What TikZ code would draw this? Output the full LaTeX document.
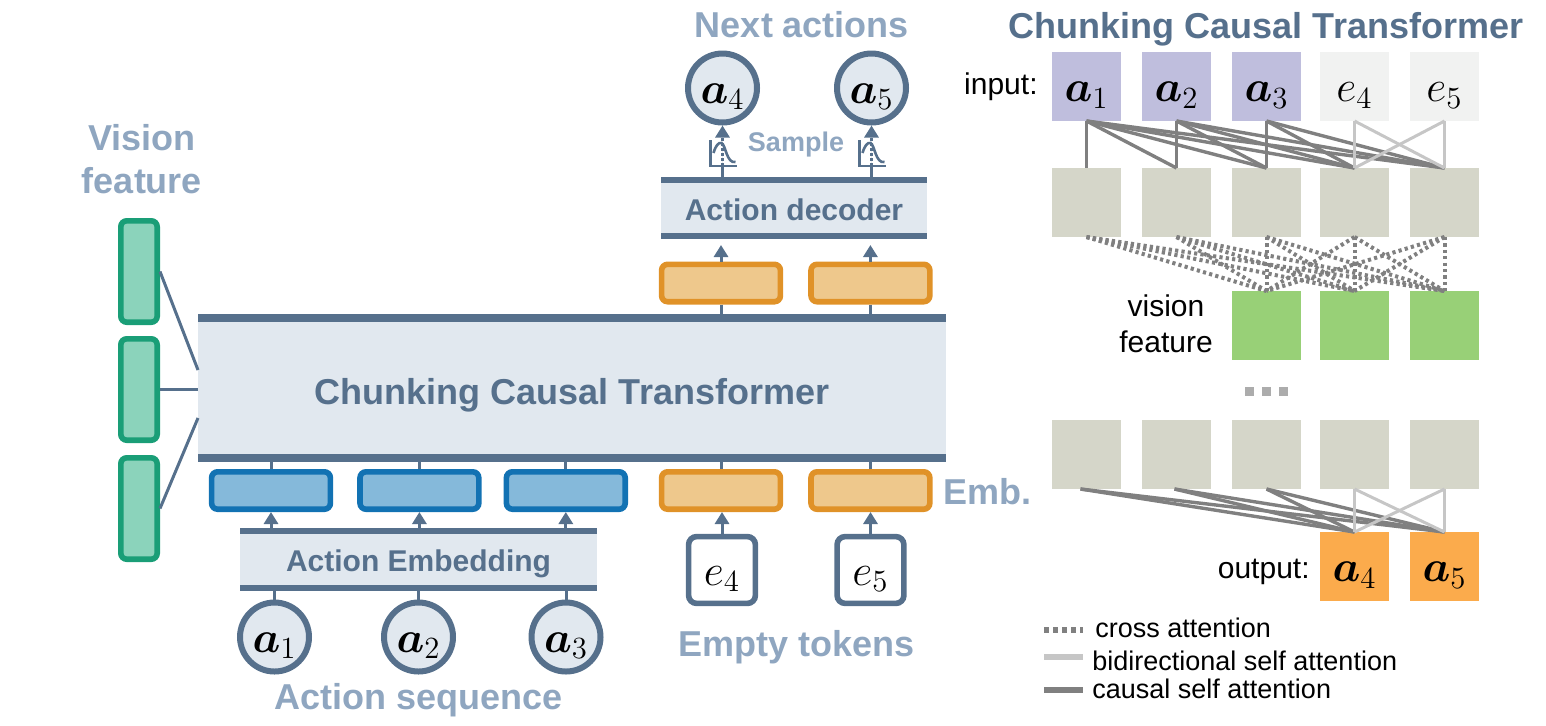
\documentclass[tikz,border=0pt]{standalone}
\usepackage{amsmath}
\usepackage{fix-cm}
\usepackage{fontspec}
\setmainfont{Liberation Sans}
\usepackage{xcolor}
\usetikzlibrary{arrows.meta, positioning, calc}

\definecolor{barcol}{HTML}{56708C}
\definecolor{blockcol}{HTML}{E1E8EF}
\definecolor{labelcol}{HTML}{8FA6C0}
\definecolor{greenline}{HTML}{1A9E77}
\definecolor{greenfill}{HTML}{8BD3BB}
\definecolor{blueline}{HTML}{1272B3}
\definecolor{bluefill}{HTML}{85B9DA}
\definecolor{orangeline}{HTML}{E09228}
\definecolor{orangefill}{HTML}{EEC88C}
\definecolor{inputcol}{HTML}{BFBEDD}
\definecolor{emptycol}{HTML}{F1F2F1}
\definecolor{hiddencol}{HTML}{D5D6C9}
\definecolor{visioncol}{HTML}{98D077}
\definecolor{outputcol}{HTML}{FBAB4C}
\definecolor{causalcol}{HTML}{808080}
\definecolor{bidircol}{HTML}{C6C6C6}
\definecolor{dotcol}{HTML}{ACACAC}

\begin{document}
\begin{tikzpicture}[
    x=0.5pt, y=-0.5pt,
    block/.style={rectangle, fill=blockcol, inner sep=0pt, outer sep=0pt, text=barcol, text height=12.3pt, text depth=0pt, font=\bfseries\fontsize{15}{17}\selectfont},
    bar/.style={draw=barcol, line width=3pt},
    link/.style={draw=barcol, line width=1.5pt},
    arrow/.style={-{Triangle[length=6pt, width=7pt]}, draw=barcol, fill=barcol, line width=1.5pt},
    vis/.style={rectangle, rounded corners=3pt, draw=greenline, fill=greenfill, line width=2.8pt, minimum width=18.2pt, minimum height=50.7pt, inner sep=0pt},
    emb/.style={rectangle, rounded corners=3pt, draw=blueline, fill=bluefill, line width=2.8pt, minimum width=59.4pt, minimum height=18.7pt, inner sep=0pt},
    tok/.style={emb, draw=orangeline, fill=orangefill},
    act/.style={circle, draw=barcol, fill=blockcol, line width=3pt, minimum size=34.5pt, inner sep=0pt, text height=15pt, text depth=0pt, font=\fontsize{22}{24}\selectfont},
    empty/.style={rectangle, rounded corners=4pt, draw=barcol, fill=white, line width=2.8pt, minimum size=33.4pt, inner sep=0pt, text height=15pt, text depth=0pt, font=\fontsize{22}{24}\selectfont},
    label/.style={text=labelcol, inner sep=0pt, align=center, font=\bfseries\fontsize{18}{21.5}\selectfont},
    cell/.style={rectangle, minimum size=34.5pt, inner sep=0pt, outer sep=0pt, text height=15pt, text depth=0pt, font=\fontsize{22}{24}\selectfont},
    plain/.style={inner sep=0pt, align=center, font=\fontsize{15}{18}\selectfont},
    legend/.style={inner sep=0pt, font=\fontsize{13.5}{16}\selectfont},
    causal/.style={draw=causalcol, line width=1.7pt},
    bidir/.style={draw=bidircol, line width=1.5pt},
    cross/.style={draw=causalcol, line width=2pt, dash pattern=on 1.6pt off 1.6pt},
    icon/.style={draw=barcol, line width=1.3pt},
    dots/.style={rectangle, fill=dotcol, minimum size=4.5pt, inner sep=0pt, outer sep=0pt}
]
\useasboundingbox (0,0) rectangle (1546,725);

% Main transformer
\node[block, minimum width=374pt, minimum height=70pt, text height=16pt, font=\bfseries\fontsize{18}{21}\selectfont] (cct) at (572,388) {Chunking Causal Transformer};
\draw[bar, line width=4pt] (cct.north west) -- (cct.north east);
\draw[bar, line width=4pt] (cct.south west) -- (cct.south east);

% Vision feature
\node[label] (vislabel) at (142,159) {Vision\\feature};
\node[vis] (vis1) at (139,271.5) {};
\node[vis] (vis2) at (139,389.5) {};
\node[vis] (vis3) at (139,508.5) {};
\draw[link] (vis1.east) -- ($(cct.west)+(0,-18)$);
\draw[link] (vis2.east) -- (vis2.east -| cct.west);
\draw[link] (vis3.east) -- ($(cct.west)+(0,30)$);

% Action sequence
\node[emb] (emb1) at (271,490.5) {};
\node[emb, right=12pt of emb1] (emb2) {};
\node[emb, right=11pt of emb2] (emb3) {};
\node[block, minimum width=178.5pt, minimum height=28.5pt] (aemb) at (418.5,559.5) {Action Embedding};
\draw[bar] (aemb.north west) -- (aemb.north east);
\draw[bar] (aemb.south west) -- (aemb.south east);
\node[act] (a1) at (274.5,637) {$\boldsymbol{a}_1$};
\node[act] (a2) at (418.5,637) {$\boldsymbol{a}_2$};
\node[act] (a3) at (566,637) {$\boldsymbol{a}_3$};
\node[label] (seqlabel) at (419,700) {Action sequence};

\draw[link] (a1) -- (a1 |- aemb.south);
\draw[link] (a2) -- (a2 |- aemb.south);
\draw[link] (a3) -- (a3 |- aemb.south);
\draw[arrow] (emb1 |- aemb.north) -- (emb1.south);
\draw[arrow] (emb2 |- aemb.north) -- (emb2.south);
\draw[arrow] (emb3 |- aemb.north) -- (emb3.south);
\draw[link] (emb1.north) -- (emb1 |- cct.south);
\draw[link] (emb2.north) -- (emb2 |- cct.south);
\draw[link] (emb3.north) -- (emb3 |- cct.south);

% Empty tokens
\node[tok] (tok4) at (721,490.5) {};
\node[tok, right=12.5pt of tok4] (tok5) {};
\node[empty] (e4) at (722,570) {$e_4$};
\node[empty] (e5) at (870.5,570) {$e_5$};
\node[label] (emptylabel) at (797,647) {Empty tokens};
\node[label] (emblabel) at (987,492) {Emb.};
\draw[arrow] (e4.north) -- (e4 |- tok4.south);
\draw[arrow] (e5.north) -- (e5 |- tok5.south);
\draw[link] (tok4.north) -- (tok4 |- cct.south);
\draw[link] (tok5.north) -- (tok5 |- cct.south);

% Decoder
\node[tok] (out4) at (721,283) {};
\node[tok, right=12.5pt of out4] (out5) {};
\node[block, minimum width=133pt, minimum height=28pt] (dec) at (794,208) {Action decoder};
\draw[bar] (dec.north west) -- (dec.north east);
\draw[bar] (dec.south west) -- (dec.south east);
\node[act] (a4) at (722.5,88) {$\boldsymbol{a}_4$};
\node[act] (a5) at (871.5,88) {$\boldsymbol{a}_5$};
\node[label] (nextlabel) at (802,25) {Next actions};
\node[label, font=\bfseries\fontsize{13.5}{16}\selectfont] (samplelabel) at (796,145) {Sample};

\draw[link] (out4.south) -- (out4 |- cct.north);
\draw[link] (out5.south) -- (out5 |- cct.north);
\draw[arrow] (out4.north) -- ($(out4 |- dec.south)+(0,9)$);
\draw[arrow] (out5.north) -- ($(out5 |- dec.south)+(0,9)$);

% Sample icons
\coordinate (ic4) at (722.5,166);
\coordinate (ic5) at (871.5,166);
\draw[link] (ic4 |- dec.north) -- (ic4);
\draw[link] (ic5 |- dec.north) -- (ic5);
\draw[arrow, densely dotted] (ic4) -- (a4.south);
\draw[arrow, densely dotted] (ic5) -- (a5.south);
\draw[icon, shift={(ic4)}] (-12,-26) -- (-12,0) -- (14,0);
\draw[icon, shift={(ic4)}] (-9,-13) .. controls (-7,-20) and (-4,-24) .. (-1,-23) .. controls (3,-22) and (4,-2) .. (13,-4);
\draw[icon, shift={(ic5)}] (-12,-26) -- (-12,0) -- (14,0);
\draw[icon, shift={(ic5)}] (-9,-13) .. controls (-7,-20) and (-4,-24) .. (-1,-23) .. controls (3,-22) and (4,-2) .. (13,-4);

% Chunking Causal Transformer, right side
\node[label, text=barcol] (title) at (1266,29) {Chunking Causal Transformer};

\node[cell, fill=inputcol] (in1) at (1086.5,86.5) {$\boldsymbol{a}_1$};
\node[cell, fill=inputcol, right=10.5pt of in1] (in2) {$\boldsymbol{a}_2$};
\node[cell, fill=inputcol, right=10.5pt of in2] (in3) {$\boldsymbol{a}_3$};
\node[cell, fill=emptycol, right=9.5pt of in3] (in4) {$e_4$};
\node[cell, fill=emptycol, right=10.5pt of in4] (in5) {$e_5$};
\node[plain, left=7pt of in1] (inlabel) {input:};

\node[cell, fill=hiddencol, below=23.5pt of in1] (hid1) {};
\node[cell, fill=hiddencol, below=23.5pt of in2] (hid2) {};
\node[cell, fill=hiddencol, below=23.5pt of in3] (hid3) {};
\node[cell, fill=hiddencol, below=23.5pt of in4] (hid4) {};
\node[cell, fill=hiddencol, below=23.5pt of in5] (hid5) {};

\node[cell, fill=visioncol, below=27pt of hid3] (v3) {};
\node[cell, fill=visioncol, below=27pt of hid4] (v4) {};
\node[cell, fill=visioncol, below=27pt of hid5] (v5) {};
\node[plain] (vlabel) at (1166,324) {vision\\feature};

\node[cell, fill=hiddencol, below=30pt of v3] (low3) {};
\node[cell, fill=hiddencol, below=30pt of v4] (low4) {};
\node[cell, fill=hiddencol, below=30pt of v5] (low5) {};
\node[cell, fill=hiddencol, below=91.5pt of hid1] (low1) {};
\node[cell, fill=hiddencol, below=91.5pt of hid2] (low2) {};

\node[cell, fill=outputcol, below=21.5pt of low4] (o4) {$\boldsymbol{a}_4$};
\node[cell, fill=outputcol, below=21.5pt of low5] (o5) {$\boldsymbol{a}_5$};
\node[plain, left=5pt of o4, yshift=-2.5pt] (outlabel) {output:};

% Dots
\node[dots] (dot2) at (1266,391) {};
\node[dots, left=4pt of dot2] (dot1) {};
\node[dots, right=4pt of dot2] (dot3) {};

% Self attention, upper layer
\draw[causal] (in1.south) -- (hid1.north);
\draw[causal] (in1.south) -- (hid2.north);
\draw[causal] (in1.south) -- (hid3.north);
\draw[causal] (in1.south) -- (hid4.north);
\draw[causal] (in1.south) -- (hid5.north);
\draw[causal] (in2.south) -- (hid2.north);
\draw[causal] (in2.south) -- (hid3.north);
\draw[causal] (in2.south) -- (hid4.north);
\draw[causal] (in2.south) -- (hid5.north);
\draw[causal] (in3.south) -- (hid3.north);
\draw[causal] (in3.south) -- (hid4.north);
\draw[causal] (in3.south) -- (hid5.north);
\draw[bidir] (in4.south) -- (hid4.north);
\draw[bidir] (in4.south) -- (hid5.north);
\draw[bidir] (in5.south) -- (hid4.north);
\draw[bidir] (in5.south) -- (hid5.north);

% Cross attention
\draw[cross] (hid1.south) -- (v3.north);
\draw[cross] (hid1.south) -- (v4.north);
\draw[cross] (hid1.south) -- (v5.north);
\draw[cross] (hid2.south) -- (v3.north);
\draw[cross] (hid2.south) -- (v4.north);
\draw[cross] (hid2.south) -- (v5.north);
\draw[cross] (hid3.south) -- (v3.north);
\draw[cross] (hid3.south) -- (v4.north);
\draw[cross] (hid3.south) -- (v5.north);
\draw[cross] (hid4.south) -- (v3.north);
\draw[cross] (hid4.south) -- (v4.north);
\draw[cross] (hid4.south) -- (v5.north);
\draw[cross] (hid5.south) -- (v3.north);
\draw[cross] (hid5.south) -- (v4.north);
\draw[cross] (hid5.south) -- (v5.north);

% Self attention, lower layer
\draw[causal] ([xshift=-3pt]low1.south) -- (o4.north);
\draw[causal] ([xshift=-3pt]low1.south) -- (o5.north);
\draw[causal] ([xshift=-1pt]low2.south) -- (o4.north);
\draw[causal] ([xshift=-1pt]low2.south) -- (o5.north);
\draw[causal] (low3.south) -- (o4.north);
\draw[causal] (low3.south) -- (o5.north);
\draw[bidir] (low4.south) -- (o4.north);
\draw[bidir] (low4.south) -- (o5.north);
\draw[bidir] (low5.south) -- (o4.north);
\draw[bidir] (low5.south) -- (o5.north);

% Legend
\coordinate (leg1) at (1044,630);
\coordinate (leg2) at (1044,657);
\coordinate (leg3) at (1044,690);
\coordinate (leg1e) at (1083,630);
\coordinate (leg2e) at (1083,657);
\coordinate (leg3e) at (1083,690);
\draw[draw=causalcol, line width=3pt, dash pattern=on 2.5pt off 2pt] (leg1) -- (leg1e);
\draw[draw=bidircol, line width=3pt] (leg2) -- (leg2e);
\draw[draw=causalcol, line width=3pt] (leg3) -- (leg3e);
\node[legend, anchor=west] (crosstext) at (1095,628) {cross attention};
\node[legend, anchor=west] (bidirtext) at (1092,661) {bidirectional self attention};
\node[legend, anchor=west] (causaltext) at (1092,689) {causal self attention};

\end{tikzpicture}
\end{document}
